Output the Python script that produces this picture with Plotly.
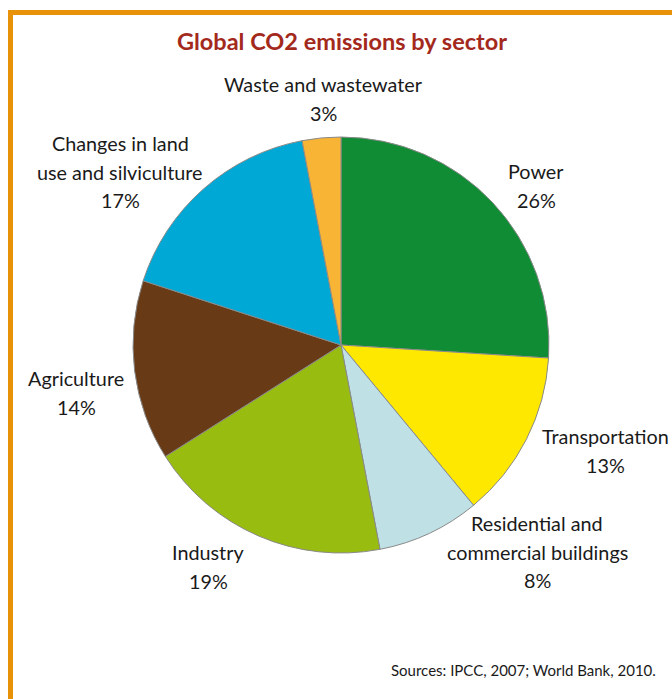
import plotly.graph_objects as go

W, H = 672, 699

sectors = ["Power", "Transportation", "Residential and commercial buildings",
           "Industry", "Agriculture", "Changes in land use and silviculture",
           "Waste and wastewater"]
shares = [26, 13, 8, 19, 14, 17, 3]
colors = ["#108C35", "#FFE800", "#BFE1E6", "#99BC10", "#683A15", "#00A8D5", "#F8B434"]

label_lines = [
    ["Power"],
    ["Transportation"],
    ["Residential and", "commercial buildings"],
    ["Industry"],
    ["Agriculture"],
    ["Changes in land", "use and silviculture"],
    ["Waste and wastewater"],
]
# label anchor (center x, top line center y) in pixels
label_pos = [(536, 171), (605, 436), (537, 523), (208, 552), (76, 378), (120, 143), (323, 84)]

title_text = "Global CO2 emissions by sector"
source_text = "Sources: IPCC, 2007; World Bank, 2010."

FONT = "Lato"
LINE = 28.5

fig = go.Figure(go.Pie(
    labels=sectors, values=shares, sort=False, direction="clockwise", rotation=0,
    marker=dict(colors=colors, line=dict(color="#8a8a8a", width=1)),
    textinfo="none", hoverinfo="label+percent", showlegend=False,
    domain=dict(x=[133 / W, 549 / W], y=[1 - 553 / H, 1 - 137 / H]),
))

annotations = []
for lines, share, (px, py) in zip(label_lines, shares, label_pos):
    for i, t in enumerate(lines + [f"{share}%"]):
        annotations.append(dict(
            x=px / W, y=1 - (py + i * LINE) / H, xref="paper", yref="paper",
            text=t, showarrow=False, xanchor="center", yanchor="middle",
            font=dict(family=FONT, size=19.8, color="#1a1a1a"),
        ))

annotations.append(dict(
    x=342 / W, y=1 - 41 / H, xref="paper", yref="paper", text=f"<b>{title_text}</b>",
    showarrow=False, xanchor="center", yanchor="middle",
    font=dict(family=FONT, size=23.5, color="#A3291C"),
))
annotations.append(dict(
    x=658 / W, y=1 - 670 / H, xref="paper", yref="paper", text=source_text,
    showarrow=False, xanchor="right", yanchor="middle",
    font=dict(family=FONT, size=15, color="#1a1a1a"),
))

border = "#E8920A"
shapes = [
    dict(type="line", xref="paper", yref="paper", x0=10.5 / W, x1=10.5 / W,
         y0=0, y1=1 - 10 / H, line=dict(color=border, width=5)),
    dict(type="line", xref="paper", yref="paper", x0=8 / W, x1=1,
         y0=1 - 12.5 / H, y1=1 - 12.5 / H, line=dict(color=border, width=5)),
]

fig.update_layout(
    width=W, height=H, margin=dict(l=0, r=0, t=0, b=0),
    paper_bgcolor="white", plot_bgcolor="white",
    annotations=annotations, shapes=shapes,
)

fig.write_html("out.html")
